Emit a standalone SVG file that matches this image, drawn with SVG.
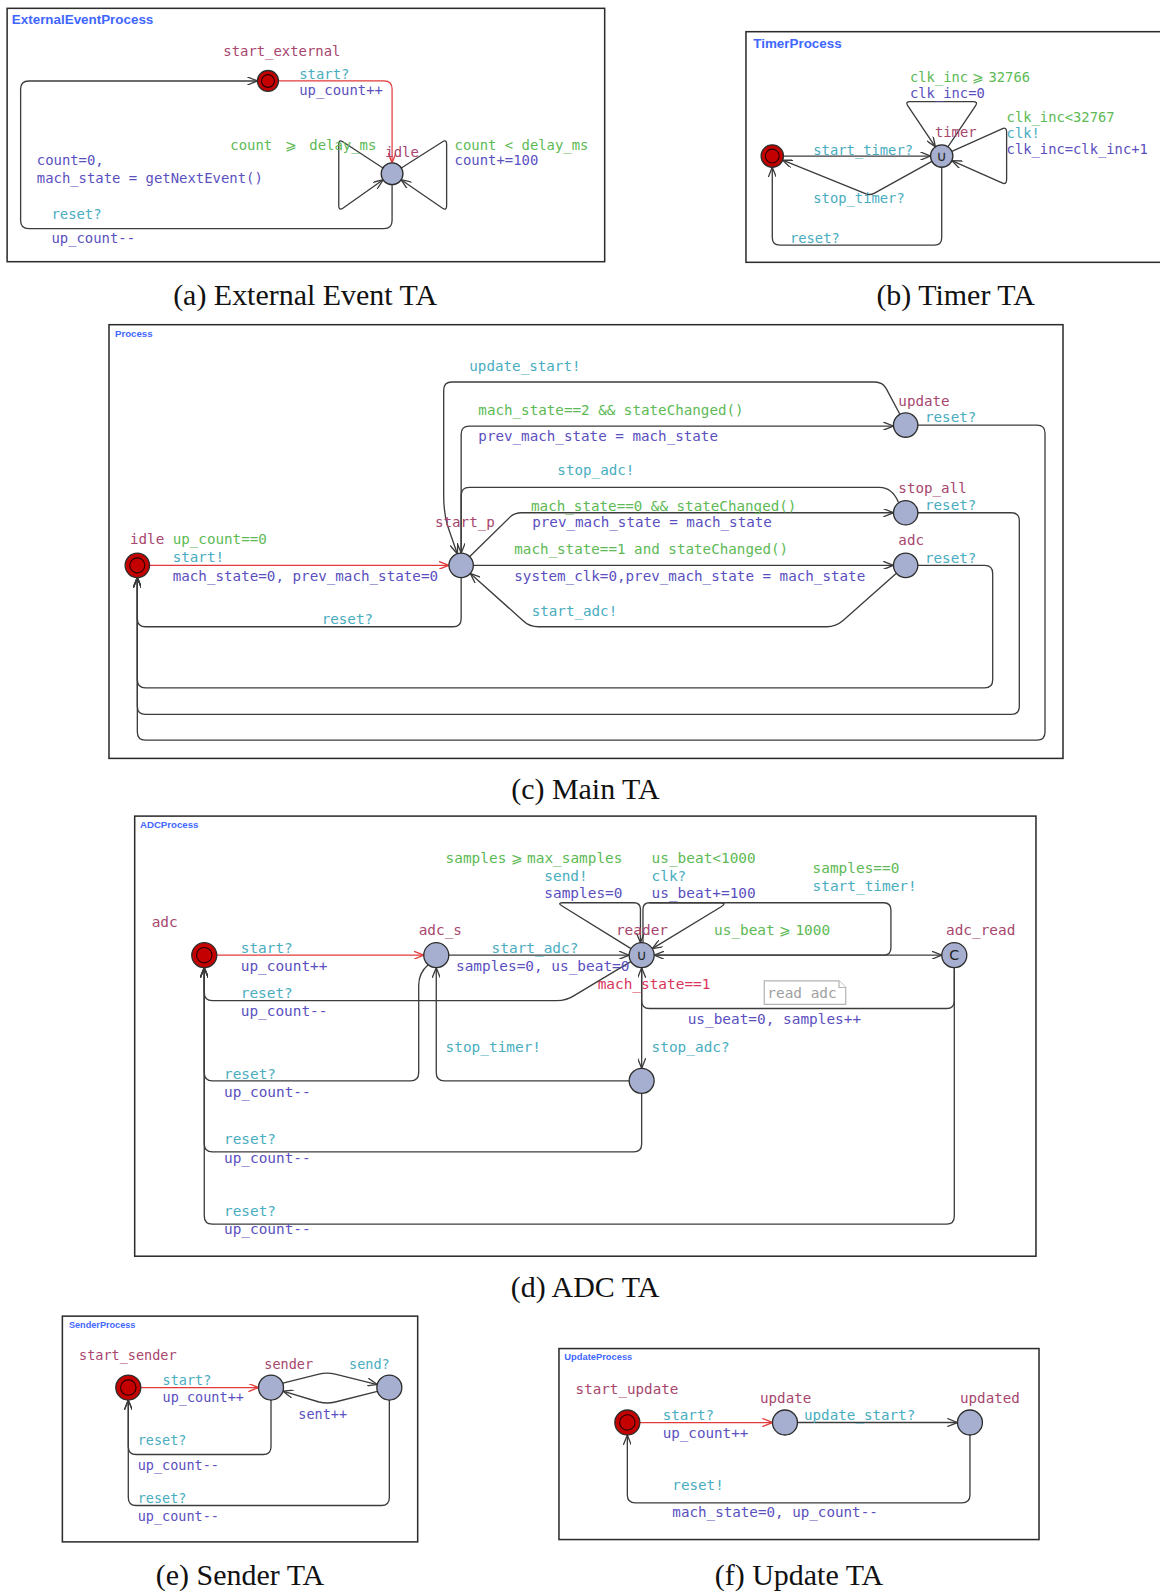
<svg xmlns="http://www.w3.org/2000/svg" width="1160" height="1593" viewBox="0 0 1160 1593">
<style>
.frame{fill:#fff;stroke:#2b2b2b;stroke-width:1.5}
.ttl{font-family:"Liberation Sans",Arial,sans-serif;font-weight:bold;fill:#3f66ff}
.t{font-family:"DejaVu Sans Mono","Liberation Mono",monospace}
.nm{fill:#a8466e}
.gd{fill:#5dba55}
.sy{fill:#49adc0}
.up{fill:#5a4fbf}
.iv{fill:#d8355a}
.nt{fill:#a0a0a0}
.cap{font-family:"Liberation Serif","Times New Roman",serif;font-size:29.5px;fill:#111;text-anchor:middle}
.e{fill:none;stroke:#3c3c3c;stroke-width:1.3;marker-end:url(#ah)}
.er{fill:none;stroke:#e23a3a;stroke-width:1.2;marker-end:url(#ahr)}
.loc{fill:#a6afcf;stroke:#2d2d2d;stroke-width:1.3}
.ini{fill:#c40000;stroke:#2d2d2d;stroke-width:1.3}
.inr{fill:none;stroke:#2a0000;stroke-width:1.1}
.sym{font-family:"DejaVu Sans",sans-serif;font-size:14px;fill:#222;text-anchor:middle}
.note{fill:#fff;stroke:#b4b4b4;stroke-width:1.2}
</style>
<defs>
<marker id="ah" viewBox="0 0 10 8" refX="10" refY="4" markerWidth="10" markerHeight="8" markerUnits="userSpaceOnUse" orient="auto"><path d="M0,0 L10,4 L0,8" fill="none" stroke="#3c3c3c" stroke-width="1.3"/></marker>
<marker id="ahr" viewBox="0 0 10 8" refX="10" refY="4" markerWidth="10" markerHeight="8" markerUnits="userSpaceOnUse" orient="auto"><path d="M0,0 L10,4 L0,8" fill="none" stroke="#e23a3a" stroke-width="1.3"/></marker>
</defs>
<rect width="1160" height="1593" fill="#fff"/>
<g transform="scale(1.01576,1.01594)">

<!-- (a) external event automaton -->
<g id="ta-external" font-size="13.7">
<rect class="frame" x="7" y="8.2" width="588.3" height="249.4"/>
<text class="ttl" x="11.7" y="23.6" font-size="13.2">ExternalEventProcess</text>
<g id="a-connectors">
<path class="er" d="M274.1,79.7 H378 Q386,79.7 386,87.7 V160.3"/>
<path class="e" d="M377,165.3 L337.5,139.5 Q333.5,137 333.5,142 V202.5 Q333.5,207.5 337.5,205 L377.2,177"/>
<path class="e" d="M395.1,165.4 L435.7,139.5 Q439.7,137 439.7,142 V202.5 Q439.7,207.5 435.7,205 L394.9,176.9"/>
<path class="e" d="M386,181.7 V217 Q386,225.1 378,225.1 H28.3 Q20.3,225.1 20.3,217.1 V87.7 Q20.3,79.7 28.3,79.7 H253.5"/>
</g>
<g id="a-start_external"><circle class="ini" cx="263.8" cy="79.7" r="10.3"/><circle class="inr" cx="263.8" cy="79.7" r="6.3"/><text class="t nm" x="219.8" y="55.1">start_external</text></g>
<g id="a-idle"><circle class="loc" cx="386" cy="171" r="10.7"/><text class="t nm" x="379.4" y="154.2">idle</text></g>
<g id="a-labels">
<text class="t sy" x="294.6" y="78.1">start?</text>
<text class="t up" x="294.6" y="93.5">up_count++</text>
<text class="t gd" x="226.8" y="147.7">count <tspan dx="4.1">⩾</tspan><tspan dx="4.1"> delay_ms</tspan></text>
<text class="t gd" x="447.5" y="147.7">count &lt; delay_ms</text>
<text class="t up" x="447.5" y="162.4">count+=100</text>
<text class="t up" x="36.2" y="162.4">count=0,</text>
<text class="t up" x="36.2" y="180.5">mach_state = getNextEvent()</text>
<text class="t sy" x="50.6" y="215.9">reset?</text>
<text class="t up" x="50.6" y="238.9">up_count--</text>
</g>
<text class="cap" x="300.4" y="300.3">(a) External Event TA</text>
</g>

<!-- (b) timer automaton -->
<g id="ta-timer" font-size="13.6">
<rect class="frame" x="734.4" y="31.2" width="430" height="227"/>
<text class="ttl" x="741.6" y="47.6" font-size="13.2">TimerProcess</text>
<g id="b-connectors">
<path class="e" d="M771.3,153.6 H916.1"/>
<path class="e" d="M933.2,144.5 L960.5,104 Q963.1,100.1 958,100.1 H896 Q891,100.1 893.6,104 L920.9,144.5"/>
<path class="e" d="M937.1,149.1 L986.5,126.8 Q991,124.7 991,130 V177 Q991,182.1 986.5,180 L937.1,158.1"/>
<path class="e" d="M917.4,158.9 L860.5,190.3 Q856.5,192.5 852,190.6 L770.5,157.7"/>
<path class="e" d="M927.1,164.6 V234 Q927.1,241.2 920,241.2 H768 Q760.3,241.2 760.3,234 V164.6"/>
</g>
<g id="b-init"><circle class="ini" cx="760.3" cy="153.6" r="11"/><circle class="inr" cx="760.3" cy="153.6" r="6.8"/></g>
<g id="b-timer"><circle class="loc" cx="927.1" cy="153.6" r="11"/><text class="sym" x="927.1" y="158.6">∪</text><text class="t nm" x="920.5" y="135.2">timer</text></g>
<g id="b-labels">
<text class="t sy" x="800.7" y="152.5">start_timer?</text>
<text class="t gd" x="895.9" y="81">clk_inc<tspan dx="4.1">⩾</tspan><tspan dx="4.1">32766</tspan></text>
<text class="t up" x="895.9" y="96.2">clk_inc=0</text>
<text class="t gd" x="991" y="119.8">clk_inc&lt;32767</text>
<text class="t sy" x="991" y="136.2">clk!</text>
<text class="t up" x="991" y="151.9">clk_inc=clk_inc+1</text>
<text class="t sy" x="800.7" y="200.2">stop_timer?</text>
<text class="t sy" x="777.7" y="239.6">reset?</text>
</g>
<text class="cap" x="940.8" y="300.3">(b) Timer TA</text>
</g>

<!-- (c) main automaton -->
<g id="ta-main" font-size="14">
<rect class="frame" x="107.3" y="319.6" width="939.2" height="426.9"/>
<text class="ttl" x="113.2" y="331.5" font-size="9.5">Process</text>
<g id="c-connectors">
<path class="er" d="M147.2,556.5 H441.8"/>
<path class="e" d="M454,568.5 V609 Q454,616.9 446,616.9 H143.2 Q135.2,616.9 135.2,609 V568.5"/>
<path class="e" d="M903.6,418.4 H1020.8 Q1028.8,418.4 1028.8,426.4 V720.5 Q1028.8,728.5 1020.8,728.5 H143.2 Q135.2,728.5 135.2,720.5 V568.5"/>
<path class="e" d="M903.6,504.7 H995.5 Q1003.5,504.7 1003.5,512.7 V695.2 Q1003.5,703.2 995.5,703.2 H143.2 Q135.2,703.2 135.2,695.2 V568.5"/>
<path class="e" d="M903.6,556.5 H969.3 Q977.3,556.5 977.3,564.5 V669 Q977.3,677 969.3,677 H143.2 Q135.2,677 135.2,669 V568.5"/>
<path class="e" d="M885.9,407.8 L872.5,382.5 Q869,376 861,376 H444.8 Q436.8,376 436.8,384 V488 Q436.8,505 440.8,518 L450.2,545.1"/>
<path class="e" d="M454,544.5 V427.4 Q454,419.4 462,419.4 H879.6"/>
<path class="e" d="M884.4,494 Q878,479.7 866,479.7 H462 Q454,479.7 454,487.7 V544.5"/>
<path class="e" d="M462.5,547.8 L502,509 Q506.5,504.7 513.5,504.7 H879.6"/>
<path class="e" d="M466,556.5 H879.6"/>
<path class="e" d="M882.2,564.5 L830,610.8 Q823,616.9 813.8,616.9 H530 Q521,616.9 515,611 L463,564.5"/>
</g>
<g id="c-idle"><circle class="ini" cx="135.2" cy="556.5" r="12"/><circle class="inr" cx="135.2" cy="556.5" r="7.4"/><text class="t nm" x="128" y="535.6">idle</text></g>
<g id="c-start_p"><circle class="loc" cx="454" cy="556.5" r="12"/><text class="t nm" x="428.2" y="519.1">start_p</text></g>
<g id="c-update"><circle class="loc" cx="891.6" cy="418.4" r="12"/><text class="t nm" x="884.4" y="399.4">update</text></g>
<g id="c-stop_all"><circle class="loc" cx="891.6" cy="504.7" r="12"/><text class="t nm" x="884.4" y="485">stop_all</text></g>
<g id="c-adc"><circle class="loc" cx="891.6" cy="556.5" r="12"/><text class="t nm" x="884.4" y="536.5">adc</text></g>
<g id="c-labels">
<text class="t gd" x="170" y="535.6">up_count==0</text>
<text class="t sy" x="170" y="552.9">start!</text>
<text class="t up" x="170" y="571.7">mach_state=0, prev_mach_state=0</text>
<text class="t sy" x="316.7" y="614.3">reset?</text>
<text class="t sy" x="462" y="364.9">update_start!</text>
<text class="t gd" x="470.9" y="408.6">mach_state==2 &amp;&amp; stateChanged()</text>
<text class="t up" x="470.9" y="433.8">prev_mach_state = mach_state</text>
<text class="t sy" x="548.7" y="468">stop_adc!</text>
<text class="t gd" x="522.8" y="502.7">mach_state==0 &amp;&amp; stateChanged()</text>
<text class="t up" x="524" y="519.1">prev_mach_state = mach_state</text>
<text class="t gd" x="506.3" y="545.7">mach_state==1 and stateChanged()</text>
<text class="t up" x="506.3" y="571.7">system_clk=0,prev_mach_state = mach_state</text>
<text class="t sy" x="523.4" y="606.4">start_adc!</text>
<text class="t sy" x="910.6" y="415.8">reset?</text>
<text class="t sy" x="910.6" y="502.1">reset?</text>
<text class="t sy" x="910.6" y="553.9">reset?</text>
</g>
<text class="cap" x="576.3" y="786">(c) Main TA</text>
</g>

<!-- (d) ADC automaton -->
<g id="ta-adc" font-size="14.2">
<rect class="frame" x="132.6" y="803.3" width="887.3" height="433.2"/>
<text class="ttl" x="137.8" y="815.4" font-size="9.5">ADCProcess</text>
<g id="d-connectors">
<path class="er" d="M213.4,940.2 H417.2"/>
<path class="e" d="M441.8,940.2 H619.4"/>
<path class="e" d="M621.2,933.7 L553,891.5 Q548.7,888.8 553.5,888.6 H624 Q630.5,888.6 630.5,895 V927.9"/>
<path class="e" d="M633,928 V895 Q633,888.6 639.5,888.6 H709 Q716,888.6 710,892.5 L642.2,933.8"/>
<path class="e" d="M639.5,888.6 H870 Q877.1,888.6 877.1,895.7 V933 Q877.1,940.2 870,940.2 H644"/>
<path class="e" d="M644,940.2 H927.2"/>
<path class="e" d="M939.5,952.5 V985 Q939.5,992.7 932,992.7 H639.5 Q631.7,992.7 631.7,985 V952.5"/>
<path class="e" d="M631.7,952.5 V1051.6"/>
<path class="e" d="M619.4,1063.9 H437.5 Q429.5,1063.9 429.5,1056 V952.5"/>
<path class="e" d="M421.5,949.5 Q412.2,957.5 412.2,970 V1056 Q412.2,1063.9 404.2,1063.9 H209 Q201.1,1063.9 201.1,1056 V952.5"/>
<path class="e" d="M621,946.5 L566,979.5 Q558,985 548,985 H209 Q201.1,985 201.1,977 V952.5"/>
<path class="e" d="M631.7,1076.2 V1126 Q631.7,1133.8 624,1133.8 H209 Q201.1,1133.8 201.1,1126 V952.5"/>
<path class="e" d="M939.5,952.5 V1197 Q939.5,1205 932,1205 H209 Q201.1,1205 201.1,1197 V952.5"/>
</g>
<g id="d-adc"><circle class="ini" cx="201.1" cy="940.2" r="12.3"/><circle class="inr" cx="201.1" cy="940.2" r="7.6"/><text class="t nm" x="149.3" y="912.9">adc</text></g>
<g id="d-adc_s"><circle class="loc" cx="429.5" cy="940.2" r="12.3"/><text class="t nm" x="412.2" y="920.5">adc_s</text></g>
<g id="d-reader"><circle class="loc" cx="631.7" cy="940.2" r="12.3"/><text class="sym" x="631.7" y="945.2">∪</text><text class="t nm" x="606.4" y="920.5">reader</text></g>
<g id="d-adc_read"><circle class="loc" cx="939.5" cy="940.2" r="12.3"/><text class="sym" x="939.5" y="945.3" font-size="15">C</text><text class="t nm" x="931.3" y="920.5">adc_read</text></g>
<g id="d-stopped"><circle class="loc" cx="631.7" cy="1063.9" r="12.3"/></g>
<g id="d-note">
<path class="note" d="M752.4,965.4 H826 L832.6,972 V988.7 H752.4 Z"/>
<path class="note" d="M826,965.4 V972 H832.6"/>
<text class="t nt" x="755.4" y="982.8">read adc</text>
</g>
<g id="d-labels">
<text class="t sy" x="237" y="937.9">start?</text>
<text class="t up" x="237" y="955.9">up_count++</text>
<text class="t sy" x="484" y="937.9">start_adc?</text>
<text class="t up" x="448.9" y="955.9">samples=0, us_beat=0</text>
<text class="t gd" x="438.7" y="849.9">samples<tspan dx="4.3">⩾</tspan><tspan dx="4.3">max_samples</tspan></text>
<text class="t sy" x="535.9" y="867.3">send!</text>
<text class="t up" x="535.9" y="884.4">samples=0</text>
<text class="t gd" x="641.5" y="849.9">us_beat&lt;1000</text>
<text class="t sy" x="641.5" y="867.3">clk?</text>
<text class="t up" x="641.5" y="884.4">us_beat+=100</text>
<text class="t gd" x="800" y="859.8">samples==0</text>
<text class="t sy" x="800" y="877.1">start_timer!</text>
<text class="t gd" x="702.9" y="920.5">us_beat<tspan dx="4.3">⩾</tspan><tspan dx="4.3">1000</tspan></text>
<text class="t iv" x="588.4" y="973.6">mach_state==1</text>
<text class="t up" x="677" y="1008.4">us_beat=0, samples++</text>
<text class="t sy" x="641.5" y="1036">stop_adc?</text>
<text class="t sy" x="438.7" y="1036">stop_timer!</text>
<text class="t sy" x="237" y="982.8">reset?</text>
<text class="t up" x="237" y="1000.2">up_count--</text>
<text class="t sy" x="220.5" y="1061.6">reset?</text>
<text class="t up" x="220.5" y="1079.6">up_count--</text>
<text class="t sy" x="220.5" y="1126.5">reset?</text>
<text class="t up" x="220.5" y="1144.6">up_count--</text>
<text class="t sy" x="220.5" y="1197.1">reset?</text>
<text class="t up" x="220.5" y="1215.1">up_count--</text>
</g>
<text class="cap" x="576" y="1277">(d) ADC TA</text>
</g>

<!-- (e) sender automaton -->
<g id="ta-sender" font-size="13.3">
<rect class="frame" x="61.4" y="1295.5" width="349.8" height="222.2"/>
<text class="ttl" x="67.9" y="1307" font-size="9">SenderProcess</text>
<g id="e-connectors">
<path class="er" d="M138.6,1365.8 H254.5"/>
<path class="e" d="M278.5,1361.5 L314,1352.5 Q322,1350.5 330,1352.5 L371.4,1362.8"/>
<path class="e" d="M371.5,1369.5 L330,1380 Q322,1382 314,1380 L278.6,1369.3"/>
<path class="e" d="M266.8,1378.1 V1424 Q266.8,1431.7 259,1431.7 H134 Q126.3,1431.7 126.3,1424 V1378.1"/>
<path class="e" d="M383.3,1378.1 V1474 Q383.3,1481.9 375.5,1481.9 H134 Q126.3,1481.9 126.3,1474 V1378.1"/>
</g>
<g id="e-start_sender"><circle class="ini" cx="126.3" cy="1365.8" r="12.3"/><circle class="inr" cx="126.3" cy="1365.8" r="7.6"/><text class="t nm" x="77.8" y="1338.9">start_sender</text></g>
<g id="e-sender"><circle class="loc" cx="266.8" cy="1365.8" r="12.3"/><text class="t nm" x="260.2" y="1347.1">sender</text></g>
<g id="e-sending"><circle class="loc" cx="383.3" cy="1365.8" r="12.3"/></g>
<g id="e-labels">
<text class="t sy" x="343.6" y="1347.1">send?</text>
<text class="t sy" x="160.1" y="1363.5">start?</text>
<text class="t up" x="160.1" y="1379.9">up_count++</text>
<text class="t up" x="293.7" y="1396.3">sent++</text>
<text class="t sy" x="135.5" y="1422.6">reset?</text>
<text class="t up" x="135.5" y="1447.2">up_count--</text>
<text class="t sy" x="135.5" y="1479.3">reset?</text>
<text class="t up" x="135.5" y="1497.4">up_count--</text>
</g>
<text class="cap" x="236.3" y="1559.7">(e) Sender TA</text>
</g>

<!-- (f) update automaton -->
<g id="ta-update" font-size="14">
<rect class="frame" x="550.3" y="1327.4" width="472.6" height="188"/>
<text class="ttl" x="555.6" y="1338.9" font-size="9.2">UpdateProcess</text>
<g id="f-connectors">
<path class="er" d="M629.9,1400.2 H760.5"/>
<path class="e" d="M785.1,1400.2 H942.6"/>
<path class="e" d="M954.9,1412.5 V1471.5 Q954.9,1479.3 947,1479.3 H625.5 Q617.6,1479.3 617.6,1471.5 V1412.5"/>
</g>
<g id="f-start_update"><circle class="ini" cx="617.6" cy="1400.2" r="12.3"/><circle class="inr" cx="617.6" cy="1400.2" r="7.6"/><text class="t nm" x="566.7" y="1372.4">start_update</text></g>
<g id="f-update"><circle class="loc" cx="772.8" cy="1400.2" r="12.3"/><text class="t nm" x="748.2" y="1380.9">update</text></g>
<g id="f-updated"><circle class="loc" cx="954.9" cy="1400.2" r="12.3"/><text class="t nm" x="945.1" y="1380.9">updated</text></g>
<g id="f-labels">
<text class="t sy" x="652.4" y="1397.9">start?</text>
<text class="t up" x="652.4" y="1415">up_count++</text>
<text class="t sy" x="791.5" y="1397.9">update_start?</text>
<text class="t sy" x="661.9" y="1466.8">reset!</text>
<text class="t up" x="661.9" y="1493.1">mach_state=0, up_count--</text>
</g>
<text class="cap" x="786.6" y="1560.4">(f) Update TA</text>
</g>

</g>
</svg>
